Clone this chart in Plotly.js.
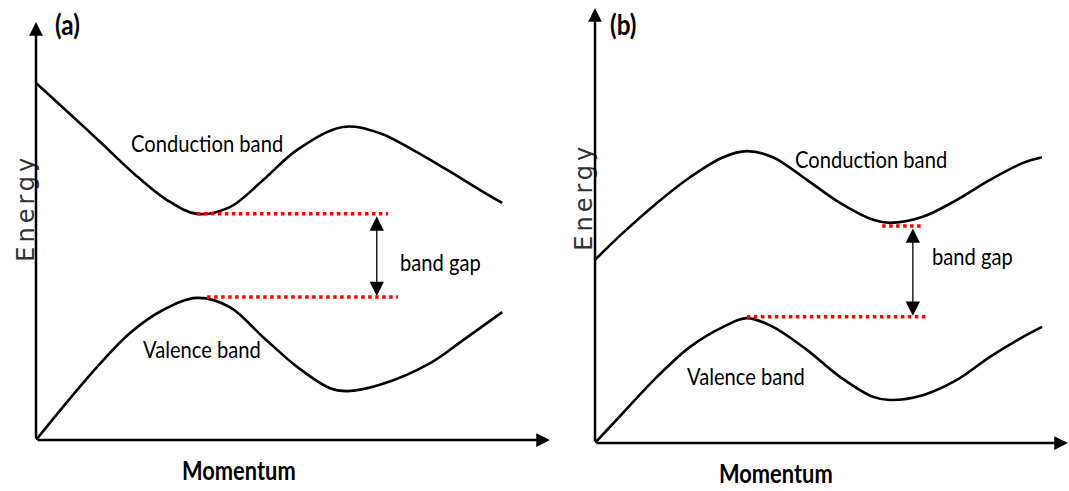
<!DOCTYPE html>
<html>
<head>
<meta charset="utf-8">
<script src="https://cdn.plot.ly/plotly-3.0.1.min.js"></script>
<style>
  html, body { margin: 0; padding: 0; background: #fff; }
  #chart { width: 1069px; height: 491px; }
  /* narrow lettering for the band labels */
  .annotation-text { transform-box: fill-box; transform-origin: center; transform: scaleX(0.84); }
  /* spaced-out lettering for the two "Energy" axis labels */
  .annotation[data-index="0"] text, .annotation[data-index="1"] text { letter-spacing: 4px; transform: none; }
</style>
</head>
<body>
<div id="chart"></div>
<script>
// Band structure sketches: (a) indirect gap, (b) indirect gap with shifted extrema.
// Momentum / energy in arbitrary units (axis tips at 10).

// Panel (a)
const momentumCondA = [0, 0.66, 1.25, 1.89, 2.55, 3.13, 3.77, 4.42, 5.08, 5.97, 6.69, 7.33, 8.00, 8.64, 9.07];
const energyCondA   = [8.54, 7.80, 7.13, 6.39, 5.74, 5.41, 5.57, 6.22, 6.94, 7.49, 7.34, 6.94, 6.46, 5.98, 5.67];
const momentumValA  = [0, 0.51, 1.19, 1.83, 2.47, 3.13, 3.77, 4.42, 5.08, 5.72, 6.05, 6.69, 7.67, 8.31, 9.07];
const energyValA    = [0, 0.77, 1.75, 2.56, 3.11, 3.40, 3.18, 2.46, 1.75, 1.24, 1.17, 1.32, 1.84, 2.39, 3.06];
const gapTopA    = {x: [3.13, 6.85], y: 5.41};
const gapBottomA = {x: [3.33, 7.04], y: 3.42};
const gapArrowXA = 6.63;

// Panel (b)
const momentumCondB = [0, 0.59, 1.31, 2.01, 2.71, 3.21, 3.76, 4.48, 5.18, 5.88, 6.24, 6.93, 7.65, 8.35, 9.05, 9.45];
const energyCondB   = [4.21, 4.83, 5.52, 6.11, 6.57, 6.71, 6.57, 6.05, 5.52, 5.13, 5.06, 5.20, 5.59, 6.05, 6.44, 6.57];
const momentumValB  = [0, 0.59, 1.31, 2.01, 2.71, 3.21, 3.76, 4.48, 5.18, 5.88, 6.24, 6.93, 7.65, 8.35, 9.05, 9.45];
const energyValB    = [0, 0.69, 1.52, 2.21, 2.67, 2.87, 2.67, 2.14, 1.52, 1.06, 0.99, 1.10, 1.45, 1.98, 2.44, 2.67];
const gapTopB    = {x: [6.07, 6.93], y: 4.99};
const gapBottomB = {x: [3.21, 7.02], y: 2.90};
const gapArrowXB = 6.72;

// Text labels
const panelLabels = ['(a)', '(b)'];
const xLabel = 'Momentum';
const yLabel = 'Energy';
const condLabel = 'Conduction band';
const valLabel = 'Valence band';
const gapLabel = 'band gap';

const AXIS_TIP = 10;
const labelFont = 'Lato, "Open Sans", sans-serif';

function bandTrace(x, y, xa, ya) {
  return {x: x, y: y, xaxis: xa, yaxis: ya, mode: 'lines', hoverinfo: 'skip',
          line: {color: '#000', width: 2.6, shape: 'spline', smoothing: 1}};
}
function gapLine(seg, xa, ya) {
  return {x: seg.x, y: [seg.y, seg.y], xaxis: xa, yaxis: ya, mode: 'lines', hoverinfo: 'skip',
          line: {color: '#ff0000', width: 3.5, dash: '3.5px,3.5px'}};
}

const traces = [
  bandTrace(momentumCondA, energyCondA, 'x', 'y'),
  bandTrace(momentumValA, energyValA, 'x', 'y'),
  gapLine(gapTopA, 'x', 'y'),
  gapLine(gapBottomA, 'x', 'y'),
  bandTrace(momentumCondB, energyCondB, 'x2', 'y2'),
  bandTrace(momentumValB, energyValB, 'x2', 'y2'),
  gapLine(gapTopB, 'x2', 'y2'),
  gapLine(gapBottomB, 'x2', 'y2')
];

function text(t, x, y, xr, yr, font, extra) {
  return Object.assign({text: t, x: x, y: y, xref: xr, yref: yr, showarrow: false,
                        xanchor: 'center', yanchor: 'middle', font: font}, extra || {});
}
function axisArrow(x, y, ax, ay, xr, yr) {
  return {x: x, y: y, ax: ax, ay: ay, xref: xr, yref: yr, axref: xr, ayref: yr,
          text: '', showarrow: true, arrowhead: 2, arrowsize: 1.1, arrowwidth: 2.5,
          arrowcolor: '#000', standoff: 0, startstandoff: 0};
}
function gapArrow(x, y0, y1, xr, yr) {
  return {x: x, y: y1, ax: x, ay: y0, xref: xr, yref: yr, axref: xr, ayref: yr,
          text: '', showarrow: true, arrowside: 'end+start', arrowhead: 2, arrowsize: 2.2,
          arrowwidth: 1.3, arrowcolor: '#000', standoff: 1, startstandoff: 1};
}

const normal = {family: labelFont, size: 24, color: '#000'};
const bold = {family: labelFont, size: 26, color: '#000', weight: 'bold'};
const panelFont = {family: labelFont, size: 29, color: '#000', weight: 'bold'};
const energyFont = {family: 'DejaVu Sans, sans-serif', size: 24, color: '#333'};

const annotations = [
  // axis names outside the plotting areas are placed in paper coordinates
  text(yLabel, 0.0234, 0.5764, 'paper', 'paper', energyFont, {textangle: -90}),
  text(yLabel, 0.5454, 0.5988, 'paper', 'paper', energyFont, {textangle: -90}),
  text(xLabel, 0.2236, 0.0428, 'paper', 'paper', bold),
  text(xLabel, 0.7259, 0.0367, 'paper', 'paper', bold),
  // axes with arrow tips
  axisArrow(AXIS_TIP, 0, 0, 0, 'x', 'y'),
  axisArrow(0, AXIS_TIP, 0, 0, 'x', 'y'),
  axisArrow(AXIS_TIP, 0, 0, 0, 'x2', 'y2'),
  axisArrow(0, AXIS_TIP, 0, 0, 'x2', 'y2'),
  // band gap arrows
  gapArrow(gapArrowXA, gapTopA.y, gapBottomA.y, 'x', 'y'),
  gapArrow(gapArrowXB, gapTopB.y, gapBottomB.y, 'x2', 'y2'),
  // labels, panel (a)
  text(panelLabels[0], 0.62, 9.93, 'x', 'y', panelFont),
  text(condLabel, 3.33, 7.11, 'x', 'y', normal),
  text(gapLabel, 7.86, 4.26, 'x', 'y', normal),
  text(valLabel, 3.23, 2.20, 'x', 'y', normal),
  // labels, panel (b)
  text(panelLabels[1], 0.59, 9.61, 'x2', 'y2', panelFont),
  text(condLabel, 5.84, 6.55, 'x2', 'y2', normal),
  text(gapLabel, 7.99, 4.32, 'x2', 'y2', normal),
  text(valLabel, 3.19, 1.56, 'x2', 'y2', normal)
];

const W = 1069, H = 491;
const hidden = {visible: false, fixedrange: true};
const layout = {
  width: W, height: H,
  margin: {l: 0, r: 0, t: 0, b: 0},
  paper_bgcolor: '#fff', plot_bgcolor: 'rgba(0,0,0,0)',
  showlegend: false,
  xaxis:  Object.assign({range: [0, AXIS_TIP], domain: [36 / W, 550 / W], anchor: 'y'}, hidden),
  yaxis:  Object.assign({range: [0, AXIS_TIP], domain: [(H - 440) / H, (H - 22) / H], anchor: 'x'}, hidden),
  xaxis2: Object.assign({range: [0, AXIS_TIP], domain: [595 / W, 1068 / W], anchor: 'y2'}, hidden),
  yaxis2: Object.assign({range: [0, AXIS_TIP], domain: [(H - 443) / H, (H - 8) / H], anchor: 'x2'}, hidden),
  annotations: annotations
};

Plotly.newPlot('chart', traces, layout, {displayModeBar: false, staticPlot: true});
</script>
</body>
</html>
